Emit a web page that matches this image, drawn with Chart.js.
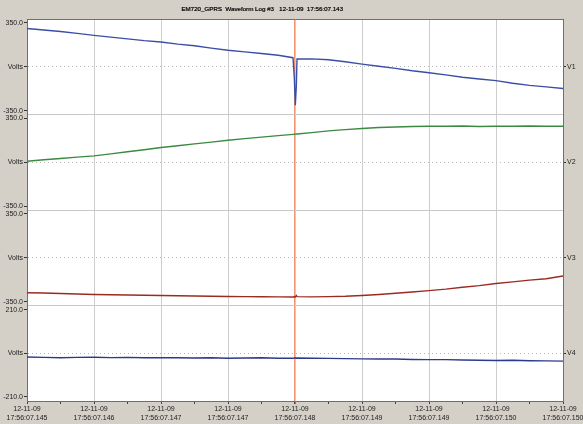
<!DOCTYPE html>
<html>
<head>
<meta charset="utf-8">
<script src="https://cdn.jsdelivr.net/npm/chart.js@4.4.0/dist/chart.umd.min.js"></script>
<style>
  html, body { margin: 0; padding: 0; background: #d4d0c8; }
  #wrap { width: 583px; height: 424px; }
</style>
</head>
<body>
<div id="wrap"><canvas id="chart"></canvas></div>
<script>
const chartTitle = 'EM720_GPRS  Waveform Log #3   12-11-09  17:56:07.143'
const tickDates = ['12-11-09', '12-11-09', '12-11-09', '12-11-09', '12-11-09', '12-11-09', '12-11-09', '12-11-09', '12-11-09']
const tickTimes = ['17:56:07.145', '17:56:07.146', '17:56:07.147', '17:56:07.147', '17:56:07.148', '17:56:07.149', '17:56:07.149', '17:56:07.150', '17:56:07.150']
const channels = ['V1', 'V2', 'V3', 'V4']
const limits = [350, 350, 350, 210]
const ranges = [380, 380, 380, 231]
const colors = ['#3b4ea6', '#3b8a40', '#9b2b22', '#2c3a8c']

// sample positions (0..800 across the 8 time divisions)
const samples = [0, 25, 50, 75, 100, 125, 150, 175, 200, 225, 250, 275, 300, 325, 350, 375,
  397, 399, 400.5, 402, 403,
  425, 450, 475, 500, 525, 550, 575, 600, 625, 650, 675, 700, 725, 750, 775, 800]

const v1 = [304, 293, 281, 266, 250, 236, 222, 208, 197, 180, 167, 148, 131, 118, 106, 91,
  72, -90, -306, -150, 62,
  63, 56, 40, 21, 4, -13, -32, -48, -65, -84, -97, -110, -131, -148, -160, -173]
const v2 = [8, 20, 30, 41, 51, 67, 84, 100, 117, 131, 146, 160, 175, 188, 200, 212,
  222, 223, 224, 225, 225,
  236, 250, 260, 269, 276, 281, 285, 287, 287, 288, 284, 287, 287, 289, 287, 287]
const v3 = [-278, -281, -284, -288, -292, -294, -297, -299, -300, -302, -304, -306, -308, -309, -310, -311,
  -312, -310, -312, -300, -309,
  -311, -309, -306, -300, -292, -283, -273, -262, -250, -235, -222, -205, -192, -178, -167, -145]
const v4 = [-18, -20, -22, -20, -19, -21, -20, -22, -21, -22, -23, -22, -24, -23, -22, -24,
  -24, -23, -22, -24, -23,
  -24, -25, -26, -27, -28, -28, -30, -31, -31, -33, -34, -35, -34, -36, -37, -38]

const series = [v1, v2, v3, v4]
const font = { family: '"Liberation Sans", Arial, sans-serif', size: 7 }
const clear = 'rgba(0,0,0,0)'
const frame = '#6f6f6f'

const leftScale = (i) => ({
  type: 'linear',
  position: 'left',
  stack: 'left',
  stackWeight: 1,
  min: -ranges[i],
  max: ranges[i],
  afterBuildTicks: s => {
    s.ticks = [-ranges[i], -limits[i], 0, limits[i], ranges[i]].map(v => ({ value: v }))
  },
  afterFit: s => {
    s.width = 27
    s.paddingTop = 0
    s.paddingBottom = 0
  },
  ticks: {
    autoSkip: false,
    font,
    color: '#222',
    padding: 1,
    callback: v => v === 0 ? 'Volts' : (Math.abs(v) === limits[i] ? v.toFixed(1) : '')
  },
  grid: {
    tickLength: 3,
    color: ctx => {
      const v = ctx.tick ? ctx.tick.value : null
      if (v === 0) return '#b8b8b8'
      if (v === -ranges[i] && i < 3) return '#c8c8c8'
      if (v === ranges[i] && i === 0) return frame
      return clear
    },
    tickColor: ctx => {
      const v = ctx.tick ? ctx.tick.value : null
      return (v === 0 || Math.abs(v) === limits[i]) ? '#333' : clear
    }
  },
  border: {
    color: frame,
    dash: ctx => (ctx.tick && ctx.tick.value === 0) ? [1, 3] : []
  }
})

const rightScale = (i) => ({
  type: 'linear',
  position: 'right',
  stack: 'right',
  stackWeight: 1,
  min: -ranges[i],
  max: ranges[i],
  afterBuildTicks: s => { s.ticks = [{ value: 0 }] },
  afterFit: s => {
    s.width = 20
    s.paddingTop = 0
    s.paddingBottom = 0
  },
  ticks: { font, color: '#222', padding: 1, callback: () => channels[i] },
  grid: { drawOnChartArea: false, tickLength: 3, tickColor: '#333' },
  border: { color: frame }
})

const plotBackground = {
  id: 'plotBackground',
  beforeDraw: (chart) => {
    const { ctx, chartArea } = chart
    ctx.save()
    ctx.fillStyle = '#ffffff'
    ctx.fillRect(chartArea.left, chartArea.top, chartArea.right - chartArea.left, chartArea.bottom - chartArea.top)
    ctx.restore()
  }
}

// the instrument puts its caption a bit left of centre
const captionText = {
  id: 'captionText',
  afterDraw: (chart) => {
    const { ctx } = chart
    ctx.save()
    ctx.font = '6.2px "Liberation Sans", Arial, sans-serif'
    ctx.fillStyle = '#111'
    ctx.textAlign = 'center'
    ctx.textBaseline = 'middle'
    ctx.fillText(chartTitle, 262, 9.5)
    ctx.fillText(chartTitle, 262.4, 9.5)
    ctx.restore()
  }
}

const chart = new Chart(document.getElementById('chart'), {
  type: 'line',
  data: {
    datasets: series.map((vals, i) => ({
      label: channels[i],
      data: samples.map((x, j) => ({ x, y: vals[j] })),
      yAxisID: 'y' + (i + 1),
      borderColor: colors[i],
      borderWidth: 1.4,
      pointRadius: 0,
      tension: 0
    }))
  },
  options: {
    responsive: true,
    maintainAspectRatio: false,
    animation: false,
    layout: { padding: { top: 19, left: 0, right: 0, bottom: 0 } },
    plugins: {
      legend: { display: false },
      tooltip: { enabled: false },
      title: { display: false }
    },
    scales: {
      x: {
        type: 'linear',
        min: 0,
        max: 800,
        afterFit: s => {
          s.height = 23
          s.paddingLeft = 0
          s.paddingRight = 0
        },
        ticks: {
          stepSize: 50,
          autoSkip: false,
          maxRotation: 0,
          font,
          color: '#222',
          padding: 1,
          callback: v => v % 100 === 0 ? [tickDates[v / 100], tickTimes[v / 100]] : ''
        },
        grid: {
          tickLength: 3,
          tickColor: '#444',
          color: ctx => {
            const v = ctx.tick ? ctx.tick.value : null
            if (v % 100 !== 0) return clear
            if (v === 400) return '#f2946c'
            if (v === 0 || v === 800) return frame
            return '#cdcdcd'
          },
          lineWidth: ctx => (ctx.tick && ctx.tick.value === 400) ? 1.6 : 1
        },
        border: { color: frame }
      },
      y4: leftScale(3),
      y3: leftScale(2),
      y2: leftScale(1),
      y1: leftScale(0),
      r1: rightScale(0),
      r2: rightScale(1),
      r3: rightScale(2),
      r4: rightScale(3)
    }
  },
  plugins: [plotBackground, captionText]
})
</script>
</body>
</html>
